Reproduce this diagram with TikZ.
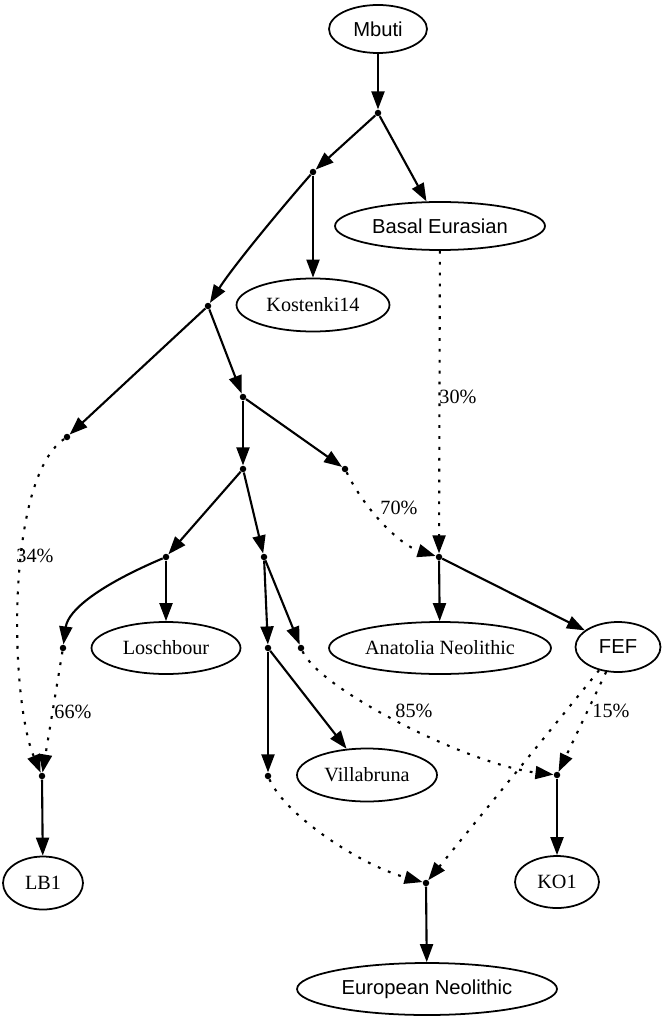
\documentclass[tikz,border=0pt]{standalone}
\usepackage{fontspec}
\setmainfont{Liberation Serif}
\newfontfamily\arialfont{Liberation Sans}
\usepackage{tikz}
\usetikzlibrary{arrows.meta,shapes.geometric}

\begin{document}
\begin{tikzpicture}[x=0.02cm,y=-0.02cm,
	pop/.style={ellipse,draw,line width=1pt,inner sep=0pt,font=\fontsize{11.5}{13}\selectfont},
	sanspop/.style={pop,font=\fontsize{11.5}{13}\selectfont\arialfont},
	junct/.style={circle,fill,inner sep=0pt,minimum size=0.13cm},
	tree/.style={-{Triangle[length=0.36cm,width=0.26cm]},line width=1.2pt},
	mix/.style={tree,dash pattern=on 1.6pt off 4.6pt},
	pct/.style={inner sep=0pt,font=\fontsize{11.5}{13}\selectfont}]
	\useasboundingbox (0,0) rectangle (665,1020);

	%Populations
	\node[sanspop,minimum width=1.96cm,minimum height=0.96cm] (mbuti) at (378,29) {Mbuti};
	\node[sanspop,minimum width=4.2cm,minimum height=0.96cm] (basal) at (440,226) {Basal Eurasian};
	\node[pop,minimum width=3.06cm,minimum height=1.06cm] (kost) at (313,305) {Kostenki14};
	\node[pop,minimum width=2.98cm,minimum height=1.04cm] (losch) at (166,648) {Loschbour};
	\node[pop,minimum width=4.44cm,minimum height=1.04cm] (anat) at (440,648) {Anatolia Neolithic};
	\node[sanspop,minimum width=1.7cm,minimum height=1cm] (fef) at (618,647) {FEF};
	\node[pop,minimum width=2.8cm,minimum height=1.06cm] (villa) at (367,775) {Villabruna};
	\node[pop,minimum width=1.6cm,minimum height=1.06cm] (lbone) at (43,883) {LB1};
	\node[pop,minimum width=1.68cm,minimum height=1.04cm] (koone) at (557,882) {KO1};
	\node[sanspop,minimum width=5.2cm,minimum height=1.04cm] (euneo) at (427,989) {European Neolithic};

	%Split points
	\node[junct] (s1) at (378,113) {};
	\node[junct] (s2) at (313,172) {};
	\node[junct] (s3) at (208,306) {};
	\node[junct] (s4) at (243,397) {};
	\node[junct] (s5) at (67,437) {};
	\node[junct] (s6) at (345,469) {};
	\node[junct] (s7) at (243,469) {};
	\node[junct] (s8) at (166,557) {};
	\node[junct] (s9) at (264,557) {};
	\node[junct] (s10) at (63,648) {};
	\node[junct] (s11) at (268,648) {};
	\node[junct] (s12) at (301,648) {};
	\node[junct] (s13) at (268,776) {};

	%Admixture points
	\node[junct] (m1) at (439,557) {};
	\node[junct] (m2) at (557,775) {};
	\node[junct] (m3) at (42,776) {};
	\node[junct] (m4) at (426,883) {};

	%Tree edges
	\draw[tree] (mbuti) -- (s1);
	\draw[tree] (s1) -- (s2);
	\draw[tree] (s1) -- (basal);
	\draw[tree] (s2) -- (kost);
	\draw[tree] (s2) .. controls (278,212) and (232,268) .. (s3);
	\draw[tree] (s3) -- (s4);
	\draw[tree] (s3) -- (s5);
	\draw[tree] (s4) -- (s7);
	\draw[tree] (s4) -- (s6);
	\draw[tree] (s7) -- (s8);
	\draw[tree] (s7) -- (s9);
	\draw[tree] (s8) -- (losch);
	\draw[tree] (s8) .. controls (100,585) and (68,610) .. (s10);
	\draw[tree] (s9) -- (s11);
	\draw[tree] (s9) -- (s12);
	\draw[tree] (s11) -- (s13);
	\draw[tree] (s11) -- (villa);
	\draw[tree] (m1) -- (anat);
	\draw[tree] (m1) -- (fef);
	\draw[tree] (m2) -- (koone);
	\draw[tree] (m3) -- (lbone);
	\draw[tree] (m4) -- (euneo);

	%Admixture edges
	\draw[mix] (basal) -- (m1);
	\draw[mix] (s6) .. controls (365,510) and (400,545) .. (m1);
	\draw[mix] (s5) .. controls (5,480) and (10,700) .. (m3);
	\draw[mix] (s10) -- (m3);
	\draw[mix] (s12) .. controls (320,690) and (470,765) .. (m2);
	\draw[mix] (fef) -- (m2);
	\draw[mix] (fef) -- (m4);
	\draw[mix] (s13) .. controls (285,815) and (360,865) .. (m4);

	\node[pct] (w30) at (458,397) {30\%};
	\node[pct] (w70) at (399,508) {70\%};
	\node[pct] (w34) at (35,556) {34\%};
	\node[pct] (w66) at (73,712) {66\%};
	\node[pct] (w85) at (414,711) {85\%};
	\node[pct] (w15) at (611,711) {15\%};
\end{tikzpicture}
\end{document}
